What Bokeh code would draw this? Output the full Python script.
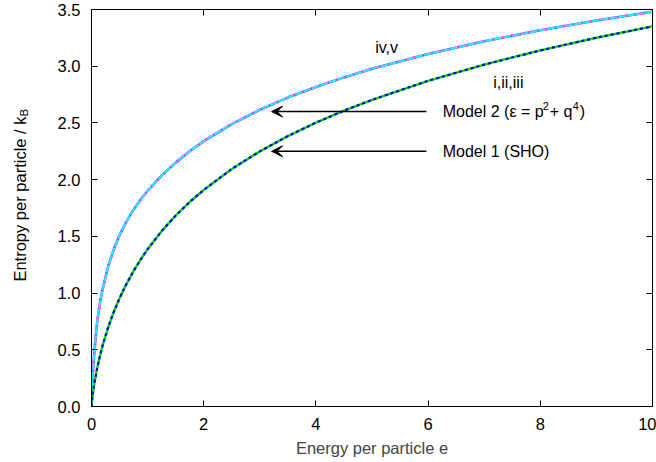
import math
from bokeh.plotting import figure
from bokeh.layouts import row
from bokeh.models import (Range1d, FixedTicker, LinearAxis, Label, Arrow, VeeHead,
                          NumeralTickFormatter)
from bokeh.core.properties import value
from bokeh.embed import file_html
from bokeh.resources import INLINE

# ---- data ----
e1 = [0, 0.01, 0.02, 0.05, 0.1, 0.15, 0.2, 0.3, 0.4, 0.5, 0.6, 0.75, 0.9, 1, 1.25, 1.5,
      1.75, 2, 2.5, 3, 3.5, 4, 4.5, 5, 6, 7, 8, 9, 10]
s1 = [0, 0.056, 0.098, 0.201, 0.335, 0.445, 0.541, 0.702, 0.838, 0.955, 1.059, 1.195,
      1.314, 1.386, 1.546, 1.683, 1.803, 1.909, 2.094, 2.249, 2.384, 2.502, 2.608, 2.703,
      2.871, 3.014, 3.139, 3.251, 3.351]
e2 = [0, 0.01, 0.02, 0.05, 0.1, 0.15, 0.2, 0.3, 0.4, 0.5, 0.6, 0.75, 0.9, 1, 1.25, 1.5,
      1.75, 2, 2.5, 3, 3.5, 4, 4.5, 5, 6, 7, 8, 9, 10]
s2 = [0, 0.16, 0.26, 0.48, 0.74, 0.91, 1.04, 1.24, 1.39, 1.51, 1.61, 1.735, 1.84, 1.90,
      2.035, 2.15, 2.25, 2.34, 2.49, 2.616, 2.7235, 2.8175, 2.9015, 2.977, 3.108, 3.2196,
      3.3167, 3.4028, 3.48]
x_ticks = [0, 2, 4, 6, 8, 10]
y_ticks = [0.0, 0.5, 1.0, 1.5, 2.0, 2.5, 3.0, 3.5]
FONT = "Liberation Sans"
FS = "16px"
FS_AX = "16.5px"
H = 460

# ---- narrow panel that carries the y-axis title ----
pl = figure(width=40, height=H, output_backend="svg", toolbar_location=None,
            title=None, x_axis_location=None, y_axis_location=None,
            x_range=Range1d(0, 40), y_range=Range1d(0, H),
            min_border=0, min_border_left=0, min_border_right=0,
            min_border_top=0, min_border_bottom=0)
pl.grid.visible = False
pl.outline_line_color = None
pl.text(x=[19], y=[H - 124], text=["Entropy per particle / k"], angle=math.pi / 2,
        text_font=value(FONT), text_font_size=FS_AX, text_align="right",
        text_baseline="middle", text_color="black")
pl.text(x=[23], y=[H - 124], text=["B"], angle=math.pi / 2,
        text_font=value(FONT), text_font_size="11.5px", text_align="left",
        text_baseline="middle", text_color="black")

# ---- main plot ----
p = figure(width=616, height=H, output_backend="svg", toolbar_location=None,
           x_range=Range1d(0, 10), y_range=Range1d(0, 3.5),
           min_border_left=51, min_border_right=4, min_border_top=9,
           min_border_bottom=H - 406,
           background_fill_color="white", border_fill_color="white")
p.grid.visible = False
p.outline_line_color = "black"
p.outline_line_width = 1


def style_axis(ax, show_labels):
    ax.axis_line_color = "black"
    ax.major_tick_in = 6
    ax.major_tick_out = 0
    ax.minor_tick_line_color = None
    ax.major_tick_line_color = "black"
    if show_labels:
        ax.major_label_text_font = FONT
        ax.major_label_text_font_size = FS_AX
        ax.major_label_text_color = "black"
    else:
        ax.major_label_text_font_size = "0px"
        ax.major_label_text_color = None
        ax.major_label_standoff = 0


p.xaxis.ticker = FixedTicker(ticks=x_ticks)
p.yaxis.ticker = FixedTicker(ticks=y_ticks)
p.yaxis.formatter = NumeralTickFormatter(format="0.0")
style_axis(p.xaxis[0], True)
style_axis(p.yaxis[0], True)
p.xaxis.major_label_standoff = 11
p.yaxis.major_label_standoff = 11
p.xaxis.axis_label = "Energy per particle e"
p.xaxis.axis_label_text_font = FONT
p.xaxis.axis_label_text_font_size = FS_AX
p.xaxis.axis_label_text_font_style = "normal"
p.xaxis.axis_label_standoff = 6

top = LinearAxis(ticker=FixedTicker(ticks=x_ticks))
style_axis(top, False)
p.add_layout(top, "above")
right = LinearAxis(ticker=FixedTicker(ticks=y_ticks))
style_axis(right, False)
p.add_layout(right, "right")

# Model 2 curves (iv, v)
p.line(e2, s2, line_color="#ff00ff", line_width=2.6)
p.line(e2, s2, line_color="#00ffff", line_width=2, line_dash="8 1")
# Model 1 curves (i, ii, iii)
p.line(e1, s1, line_color="#00e000", line_width=2.4)
p.line(e1, s1, line_color="#0000ff", line_width=2.2, line_dash="3 3")
p.line(e1, s1, line_color="#000000", line_width=0.8, line_dash="1 8")

# arrows and labels
for y in [2.6, 2.25]:
    p.add_layout(Arrow(x_start=5.97, y_start=y, x_end=3.21, y_end=y, line_width=1.5,
                       line_color="black",
                       end=VeeHead(size=11, fill_color="black", line_color="black")))


def lab(x, y, txt, size=FS, xo=0, yo=0, align="left"):
    p.add_layout(Label(x=x, y=y, text=txt, text_font=FONT, text_font_size=size,
                       x_offset=xo, y_offset=yo, text_align=align,
                       text_baseline="middle", text_color="black"))


lab(6.26, 2.6, "Model 2 (\u03b5 = p")
lab(6.26, 2.6, "2", size="11px", xo=100, yo=6)
lab(6.26, 2.6, "+ q", xo=107)
lab(6.26, 2.6, "4", size="11px", xo=130, yo=6)
lab(6.26, 2.6, ")", xo=137)
lab(6.26, 2.25, "Model 1 (SHO)")

lab(5.26, 3.165, "iv,v", align="center")
lab(7.43, 2.86, "i,ii,iii", align="center")

layout = row(pl, p)
open("out.html", "w").write(file_html(layout, INLINE))
